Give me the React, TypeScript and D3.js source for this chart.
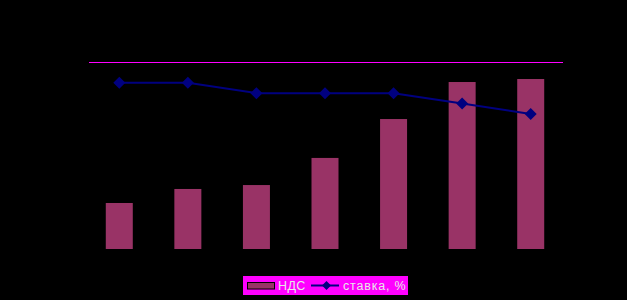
import React from "react";
import * as d3 from "d3";

const categories = ["1", "2", "3", "4", "5", "6", "7"];
const ndsValues = [24.6, 32.1, 34.2, 48.7, 69.5, 89.3, 90.9];
const rateValues = [16, 16, 15, 15, 15, 14, 13];
const legendLabels = ["НДС", "ставка, %"];

const W = 627;
const H = 300;

export default function App() {
  const xc = d3.scalePoint<string>().domain(categories).range([85, 565]).padding(0.5);
  const y = d3.scaleLinear().domain([0, 100]).range([249, 62]);
  const y2 = d3.scaleLinear().domain([0, 18]).range([249, 62]);
  const bw = 27;
  const line = d3
    .line<number>()
    .x((_, i) => xc(categories[i]) as number)
    .y((d) => y2(d));
  const diamond = (cx: number, cy: number, r: number) =>
    `M${cx},${cy - r}L${cx + r},${cy}L${cx},${cy + r}L${cx - r},${cy}Z`;

  return (
    <svg
      width={W}
      height={H}
      style={{ position: "absolute", left: 0, top: 0, background: "#000" }}
    >
      <rect x={0} y={0} width={W} height={H} fill="#000" />
      <line
        x1={89}
        x2={563}
        y1={y(100) + 0.5}
        y2={y(100) + 0.5}
        stroke="#ff00ff"
        strokeWidth={1}
        shapeRendering="crispEdges"
      />
      {ndsValues.map((v, i) => {
        const cx = xc(categories[i]) as number;
        return (
          <rect
            key={i}
            x={cx - bw / 2}
            y={y(v)}
            width={bw}
            height={y(0) - y(v)}
            fill="#993366"
          />
        );
      })}
      <path d={line(rateValues) || ""} fill="none" stroke="#000080" strokeWidth={2} />
      {rateValues.map((v, i) => (
        <path key={i} d={diamond(xc(categories[i]) as number, y2(v), 6)} fill="#000080" />
      ))}
      <g>
        <rect x={243} y={276} width={165} height={19} fill="#ff00ff" />
        <rect x={247.5} y={282.5} width={27} height={6.5} fill="#993366" stroke="#000" strokeWidth={1} />
        <text
          x={278}
          y={290}
          fill="#e8e8e8"
          fontFamily="'Liberation Sans', Arial, sans-serif"
          fontSize={12.5}
          letterSpacing={0.4}
        >
          {legendLabels[0]}
        </text>
        <line x1={311} x2={339} y1={285.5} y2={285.5} stroke="#000080" strokeWidth={2} />
        <path d={diamond(326.5, 285.5, 4.5)} fill="#000080" />
        <text
          x={343}
          y={290}
          fill="#e8e8e8"
          fontFamily="'Liberation Sans', Arial, sans-serif"
          fontSize={12.5}
          letterSpacing={0.8}
        >
          {legendLabels[1]}
        </text>
      </g>
    </svg>
  );
}
